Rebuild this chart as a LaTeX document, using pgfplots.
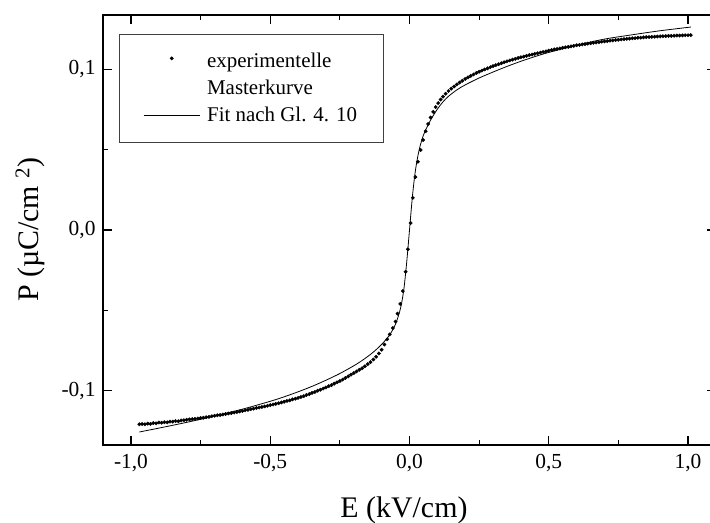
\documentclass[border=0pt]{standalone}
\usepackage{fontspec}
\setmainfont{Liberation Serif}
\usepackage{pgfplots}
\pgfplotsset{compat=1.18}
\begin{document}
\begin{tikzpicture}
\begin{axis}[
  at={(0,0)}, anchor=south west,
  scale only axis, width=613bp, height=430bp,
  xmin=-1.1005, xmax=1.1005, ymin=-0.1338, ymax=0.1338,
  xtick={-1,-0.5,0,0.5,1}, ytick={-0.1,0,0.1},
  minor x tick num=1, minor y tick num=1,
  tick align=inside,
  major tick length=9bp, minor tick length=5bp,
  axis line style={line width=1.3bp},
  every tick/.style={line width=1.2bp, black},
  /pgf/number format/.cd, assume math mode=true, use comma, fixed, fixed zerofill, precision=1,
  /pgfplots/.cd,
  tick label style={font=\fontsize{21.5}{24}\selectfont},
  xticklabel style={yshift=-6bp},
  yticklabel style={xshift=-4bp},
  xlabel={E (kV/cm)}, ylabel={P (µC/cm {\fontsize{21}{24}\selectfont\raisebox{0.42em}{2}})},
  label style={font=\fontsize{30}{33}\selectfont},
  xlabel style={at={(axis description cs:0.491,-0.151)}, anchor=center},
  ylabel style={at={(axis description cs:-0.119,0.5)}, anchor=center},
  legend cell align=left,
  legend style={at={(axis description cs:0.0261,0.9558)}, anchor=north west,
    draw=black!75, line width=0.7bp, inner xsep=24bp, inner ysep=17bp,
    font=\fontsize{21}{24}\selectfont, row sep=7bp,
    /tikz/every odd column/.append style={column sep=5bp}},
]
\addplot[only marks, mark=*, mark size=1.7bp, black,
  legend image code/.code={\path (0bp,0bp) (56bp,0bp); \fill[black] (28bp,3bp) circle (1.6bp);}]
 coordinates {
(-0.97,-0.1209)(-0.96,-0.1207)(-0.95,-0.1209)(-0.94,-0.1205)(-0.93,-0.1206)(-0.92,-0.1202)(-0.91,-0.1203)(-0.90,-0.1198)
(-0.89,-0.1199)(-0.88,-0.1196)(-0.87,-0.1197)(-0.86,-0.1192)(-0.85,-0.1193)(-0.84,-0.1189)(-0.83,-0.1190)(-0.82,-0.1185)
(-0.81,-0.1184)(-0.80,-0.1181)(-0.79,-0.1179)(-0.78,-0.1177)(-0.77,-0.1175)(-0.76,-0.1173)(-0.75,-0.1170)(-0.74,-0.1168)
(-0.73,-0.1165)(-0.72,-0.1163)(-0.71,-0.1159)(-0.70,-0.1156)(-0.69,-0.1153)(-0.68,-0.1151)(-0.67,-0.1148)(-0.66,-0.1145)
(-0.65,-0.1142)(-0.64,-0.1139)(-0.63,-0.1136)(-0.62,-0.1133)(-0.61,-0.1129)(-0.60,-0.1126)(-0.59,-0.1122)(-0.58,-0.1119)
(-0.57,-0.1115)(-0.56,-0.1112)(-0.55,-0.1108)(-0.54,-0.1105)(-0.53,-0.1101)(-0.52,-0.1098)(-0.51,-0.1094)(-0.50,-0.1090)
(-0.49,-0.1086)(-0.48,-0.1082)(-0.47,-0.1078)(-0.46,-0.1073)(-0.45,-0.1069)(-0.44,-0.1064)(-0.43,-0.1060)(-0.42,-0.1054)
(-0.41,-0.1050)(-0.40,-0.1045)(-0.39,-0.1039)(-0.38,-0.1034)(-0.37,-0.1027)(-0.36,-0.1021)(-0.35,-0.1014)(-0.34,-0.1008)
(-0.33,-0.1000)(-0.32,-0.0994)(-0.31,-0.0987)(-0.30,-0.0980)(-0.29,-0.0972)(-0.28,-0.0965)(-0.27,-0.0956)(-0.26,-0.0948)
(-0.25,-0.0940)(-0.24,-0.0931)(-0.23,-0.0921)(-0.22,-0.0911)(-0.21,-0.0900)(-0.20,-0.0890)(-0.19,-0.0880)(-0.18,-0.0870)
(-0.17,-0.0860)(-0.16,-0.0848)(-0.15,-0.0835)(-0.14,-0.0822)(-0.13,-0.0806)(-0.12,-0.0789)(-0.11,-0.0768)(-0.10,-0.0745)
(-0.09,-0.0713)(-0.08,-0.0680)(-0.071,-0.0650)(-0.060,-0.0610)(-0.050,-0.0570)(-0.043,-0.0520)(-0.033,-0.0460)(-0.024,-0.0380)
(-0.014,-0.0260)(-0.006,-0.0120)(0.004,0.0043)(0.012,0.0200)(0.021,0.0330)(0.030,0.0425)(0.040,0.0498)(0.049,0.0560)
(0.058,0.0615)(0.067,0.0660)(0.076,0.0700)(0.085,0.0735)(0.094,0.0765)(0.103,0.0790)(0.112,0.0812)(0.12,0.0830)
(0.13,0.0848)(0.14,0.0865)(0.15,0.0880)(0.16,0.0893)(0.17,0.0906)(0.18,0.0918)(0.19,0.0929)(0.20,0.0940)
(0.21,0.0950)(0.22,0.0959)(0.23,0.0968)(0.24,0.0977)(0.25,0.0985)(0.26,0.0992)(0.27,0.0999)(0.28,0.1006)
(0.29,0.1013)(0.30,0.1020)(0.31,0.1026)(0.32,0.1032)(0.33,0.1038)(0.34,0.1044)(0.35,0.1050)(0.36,0.1055)
(0.37,0.1060)(0.38,0.1065)(0.39,0.1070)(0.40,0.1075)(0.41,0.1079)(0.42,0.1084)(0.43,0.1088)(0.44,0.1092)
(0.45,0.1096)(0.46,0.1100)(0.47,0.1104)(0.48,0.1108)(0.49,0.1112)(0.50,0.1116)(0.51,0.1120)(0.52,0.1124)
(0.53,0.1127)(0.54,0.1130)(0.55,0.1134)(0.56,0.1137)(0.57,0.1140)(0.58,0.1143)(0.59,0.1146)(0.60,0.1150)
(0.61,0.1152)(0.62,0.1155)(0.63,0.1157)(0.64,0.1160)(0.65,0.1162)(0.66,0.1165)(0.67,0.1167)(0.68,0.1169)
(0.69,0.1172)(0.70,0.1174)(0.71,0.1176)(0.72,0.1178)(0.73,0.1180)(0.74,0.1182)(0.75,0.1184)(0.76,0.1186)
(0.77,0.1188)(0.78,0.1190)(0.79,0.1191)(0.80,0.1193)(0.81,0.1194)(0.82,0.1196)(0.83,0.1197)(0.84,0.1199)
(0.85,0.1200)(0.86,0.1201)(0.87,0.1202)(0.88,0.1203)(0.89,0.1204)(0.90,0.1205)(0.91,0.1206)(0.92,0.1207)
(0.93,0.1208)(0.94,0.1208)(0.95,0.1209)(0.96,0.1210)(0.97,0.1210)(0.98,0.1211)(0.99,0.1212)(1.00,0.1212)(1.01,0.1213)
};
\addlegendentry{experimentelle}
\addlegendimage{empty legend}
\addlegendentry{Masterkurve}
\addplot[black, line width=0.8bp, smooth,
  legend image code/.code={\draw[black, line width=0.8bp] (0bp,0bp) -- (56bp,0bp);}]
 coordinates {
(-0.97,-0.1257)(-0.9,-0.1233)(-0.8,-0.1197)(-0.7,-0.1158)(-0.6,-0.1115)(-0.5,-0.1066)(-0.45,-0.1038)
(-0.4,-0.1007)(-0.35,-0.0973)(-0.3,-0.0935)(-0.25,-0.0893)(-0.2,-0.0845)(-0.17,-0.0812)(-0.14,-0.0774)
(-0.12,-0.0745)(-0.1,-0.0712)(-0.08,-0.0673)(-0.07,-0.0650)(-0.06,-0.0620)(-0.05,-0.0585)(-0.04,-0.0535)
(-0.03,-0.0470)(-0.02,-0.0365)(-0.01,-0.0200)(0,0.0)(0.01,0.0200)(0.02,0.0355)(0.03,0.0460)(0.04,0.0535)
(0.05,0.0590)(0.06,0.0630)(0.07,0.0665)(0.08,0.0697)(0.1,0.0752)(0.12,0.0797)(0.14,0.0832)(0.17,0.0872)
(0.2,0.0903)(0.25,0.0946)(0.3,0.0983)(0.35,0.1018)(0.4,0.1050)(0.45,0.1079)(0.5,0.1105)(0.6,0.1150)
(0.7,0.1188)(0.8,0.1215)(0.9,0.1240)(1.01,0.1263)
};
\addlegendentry{Fit nach Gl. 4. 10}
\end{axis}
\pgfresetboundingbox
\path[use as bounding box] (-103bp,-78bp) rectangle (607bp,445bp);
\end{tikzpicture}
\end{document}
